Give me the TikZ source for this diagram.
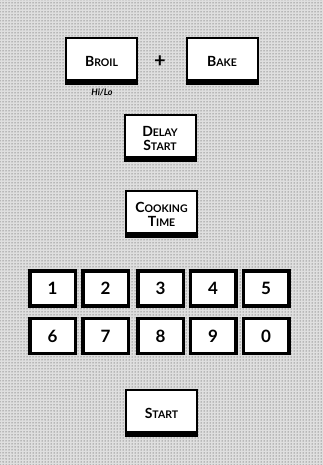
\documentclass[tikz,border=0pt]{standalone}
\usepackage{fontspec}
\setmainfont{Lato}
\usetikzlibrary{patterns}
\newcommand\kcap[2]{{\fontsize{14}{14}\selectfont #1}{\fontsize{10.5}{11}\selectfont #2}}
\tikzset{
  panelkey/.style={draw, line width=2pt, fill=white, minimum width=71pt, minimum height=46pt, inner sep=0pt, align=center, font=\bfseries\fontsize{10.5}{15}\selectfont},
  numkey/.style={draw, line width=3.5pt, fill=white, minimum width=45.5pt, minimum height=35pt, inner sep=0pt, font=\bfseries\fontsize{17}{18}\selectfont},
  shadowbar/.style={fill=black},
}
\begin{document}
\begin{tikzpicture}[x=1pt,y=-1pt]
\fill[gray!25] (0,0) rectangle (323,465);
\fill[pattern=dots, pattern color=black!80] (0,0) rectangle (323,465);
\useasboundingbox (0,0) rectangle (323,465);

\node[panelkey] (broil) at (101.5,61) {\kcap{B}{ROIL}};
\node[panelkey] (bake) at (222,61.5) {\kcap{B}{AKE}};
\node[panelkey] (delay) at (160,138) {\kcap{D}{ELAY}\\[-1pt]\kcap{S}{TART}};
\node[panelkey] (cook) at (161.5,214) {\kcap{C}{OOKING}\\[-1pt]\kcap{T}{IME}};
\node[panelkey] (start) at (161.5,413) {\kcap{S}{TART}};
\foreach \n in {broil,bake,delay,cook,start}{
  \fill[shadowbar] (\n.south west) rectangle ([yshift=6pt]\n.south east);
}
\node[font=\fontsize{20}{20}\selectfont\bfseries] (plus) at (160,62) {+};
\node[font=\fontsize{9}{9}\selectfont\bfseries\itshape] (hilo) at (102,92) {Hi/Lo};

\node[numkey] (k1) at (52.5,288.5) {1};
\node[numkey] (k2) at (105.5,288.5) {2};
\node[numkey] (k3) at (160.5,288.5) {3};
\node[numkey] (k4) at (213,288.5) {4};
\node[numkey] (k5) at (266,288.5) {5};
\node[numkey] (k6) at (52.5,336) {6};
\node[numkey] (k7) at (105.5,336) {7};
\node[numkey] (k8) at (160.5,336) {8};
\node[numkey] (k9) at (213,336) {9};
\node[numkey] (k0) at (266,336) {0};
\end{tikzpicture}
\end{document}
